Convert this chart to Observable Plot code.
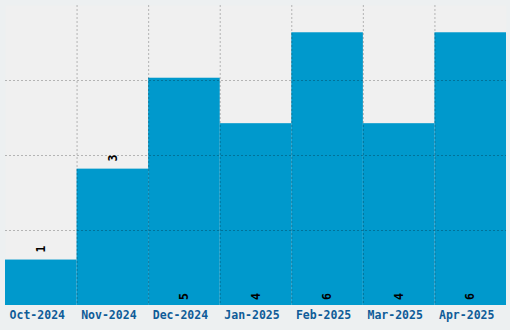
<!DOCTYPE html>
<html>
<head>
<meta charset="utf-8">
<script src="https://cdn.jsdelivr.net/npm/d3@7"></script>
<script src="https://cdn.jsdelivr.net/npm/@observablehq/plot@0.6"></script>
<style>
  html, body { margin: 0; padding: 0; background: #edf0f1; }
  #chart { width: 510px; height: 330px; }
</style>
</head>
<body>
<div id="chart"></div>
<script>
const months = ["Oct-2024", "Nov-2024", "Dec-2024", "Jan-2025", "Feb-2025", "Mar-2025", "Apr-2025"];
const counts = [1, 3, 5, 4, 6, 4, 6];
const gridLevels = [1.65, 3.3, 4.95];

const data = months.map((m, i) => ({month: m, count: counts[i]}));
const W = 510, H = 330, ML = 5, MR = 4, MT = 5, MB = 25;
const bw = (W - ML - MR) / months.length;
const font = "'DejaVu Sans Mono', monospace";

const chart = Plot.plot({
  width: W, height: H,
  marginLeft: ML, marginRight: MR, marginTop: MT, marginBottom: MB,
  style: {background: "#edf0f1", fontFamily: font},
  x: {domain: months, padding: 0, round: false},
  y: {domain: [0, 6.6], axis: null},
  marks: [
    Plot.frame({fill: "#f0f0f0", stroke: null}),
    Plot.barY(data, {x: "month", y: "count", fill: "#0099cc", inset: 0}),
    Plot.ruleY(gridLevels, {stroke: "#000", strokeOpacity: 0.25, strokeDasharray: "2,2"}),
    Plot.ruleX(months.slice(1), {x: d => d, dx: -bw / 2, stroke: "#000", strokeOpacity: 0.25, strokeDasharray: "2,2"}),
    Plot.text(data.filter(d => d.count < 3.3), {x: "month", y: "count", text: d => String(d.count), rotate: -90, dy: -11, fill: "#000", fontSize: 11.5, fontWeight: "bold", fontFamily: font}),
    Plot.text(data.filter(d => d.count >= 3.3), {x: "month", y: 0, text: d => String(d.count), rotate: -90, dy: -9, fill: "#000", fontSize: 11.5, fontWeight: "bold", fontFamily: font}),
    Plot.axisX({tickSize: 0, tickPadding: 5, dx: -4, fill: "#0f5c98", fontSize: 11.5, fontWeight: "bold", fontFamily: font, label: null})
  ]
});
document.getElementById("chart").appendChild(chart);
</script>
</body>
</html>
